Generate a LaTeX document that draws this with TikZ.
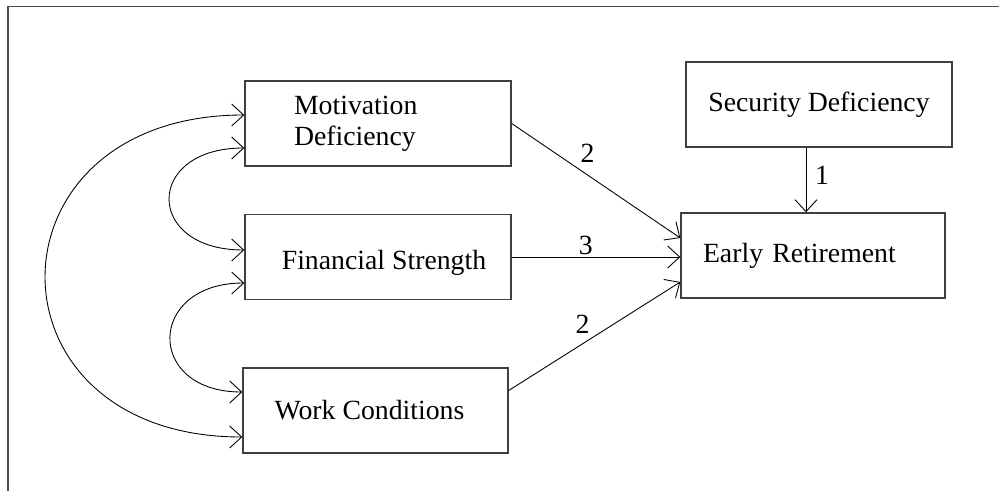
\documentclass[tikz,border=0pt]{standalone}
\usepackage{fontspec}
\setmainfont{Liberation Serif}
\usetikzlibrary{arrows.meta}

\begin{document}
\begin{tikzpicture}[
    >={Straight Barb[length=2.4mm,width=4.4mm]},
    box/.style={draw=black!75, line width=0.8pt, minimum width=5.32cm,
      minimum height=1.7cm, font=\fontsize{15.8}{17.6}\selectfont},
    effect/.style={->, line width=0.5pt},
    corr/.style={<->, line width=0.5pt},
    weight/.style={font=\fontsize{15.8}{17.6}\selectfont, inner sep=1pt}
  ]
  \useasboundingbox (0,0) rectangle (19.98,-9.82);
  % open frame, top and left side only
  \draw[black!70, line width=1.1pt] (19.98,-0.13) -- (0.16,-0.13) -- (0.16,-9.82);

  % predictors
  \node[box, align=left, text width=3.36cm] (md) at (7.56,-2.47) {Motivation\\Deficiency};
  \node[box, text height=17.6pt, text depth=3.4pt] (fs) at (7.56,-5.14) {Financial Strength\hspace*{-0.24cm}};
  \node[box, minimum width=5.30cm] (wc) at (7.51,-8.21) {Work Conditions\hspace*{0.24cm}};

  % outcome side
  \node[box] (sd) at (16.38,-2.09) {Security Deficiency};
  \node[box, minimum width=5.28cm, align=left, text width=4.4cm] (er) at (16.26,-5.11) {Early Retirement};

  % correlations between predictors
  \draw[corr] ([yshift=0.17cm]md.west) to[out=180,in=180,distance=5.28cm] ([yshift=-0.53cm]wc.west);
  \draw[corr] ([yshift=-0.49cm]md.west) to[out=180,in=180,distance=2cm] ([yshift=0.14cm]fs.west);
  \draw[corr] ([yshift=-0.52cm]fs.west) to[out=180,in=180,distance=1.95cm] ([yshift=0.37cm]wc.west);

  % weighted paths
  \draw[effect] (md.east) -- node[weight, pos=.45, above=2mm] {2} ([yshift=0.35cm]er.west);
  \draw[effect] (fs.east) -- node[weight, pos=.44, above] {3} (fs.east -| er.west);
  \draw[effect] ([yshift=0.4cm]wc.east) -- node[weight, pos=.43, above=1.6mm] {2} ([yshift=-0.53cm]er.west);
  \draw[effect] ([xshift=-0.26cm]sd.south) -- node[weight, pos=.43, right=1.4mm] {1}
    ([xshift=-0.26cm]sd.south |- er.north);
\end{tikzpicture}
\end{document}
